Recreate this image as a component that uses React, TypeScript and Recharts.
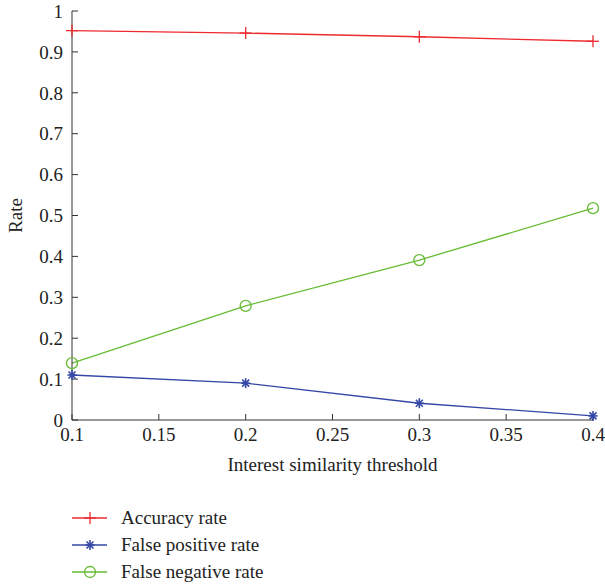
import { Line, LineChart, XAxis, YAxis } from "recharts";

const thresholds = [0.1, 0.2, 0.3, 0.4];
const accuracyRate = [0.952, 0.946, 0.937, 0.926];
const falsePositiveRate = [0.11, 0.09, 0.041, 0.01];
const falseNegativeRate = [0.139, 0.279, 0.391, 0.518];

const xTicks = [0.1, 0.15, 0.2, 0.25, 0.3, 0.35, 0.4];
const yTicks = [0, 0.1, 0.2, 0.3, 0.4, 0.5, 0.6, 0.7, 0.8, 0.9, 1];

const data = thresholds.map((t, i) => ({
  threshold: t,
  accuracy: accuracyRate[i],
  falsePositive: falsePositiveRate[i],
  falseNegative: falseNegativeRate[i],
}));

const FONT = "'Liberation Serif', serif";
const RED = "#ee2a2e";
const BLUE = "#3447a6";
const GREEN = "#66bb33";
const AXIS = "#333";

function PlusMark({ cx, cy, color }: { cx: number; cy: number; color: string }) {
  return (
    <g stroke={color} strokeWidth={1.3}>
      <line x1={cx - 6} y1={cy} x2={cx + 6} y2={cy} />
      <line x1={cx} y1={cy - 6} x2={cx} y2={cy + 6} />
    </g>
  );
}

function StarMark({ cx, cy, color }: { cx: number; cy: number; color: string }) {
  return (
    <g stroke={color} strokeWidth={1.6}>
      <line x1={cx - 4.5} y1={cy} x2={cx + 4.5} y2={cy} />
      <line x1={cx} y1={cy - 5} x2={cx} y2={cy + 5} />
      <line x1={cx - 3.5} y1={cy - 3.5} x2={cx + 3.5} y2={cy + 3.5} />
      <line x1={cx - 3.5} y1={cy + 3.5} x2={cx + 3.5} y2={cy - 3.5} />
    </g>
  );
}

function CircleMark({ cx, cy, color }: { cx: number; cy: number; color: string }) {
  return <circle cx={cx} cy={cy} r={5.5} fill="none" stroke={color} strokeWidth={1.3} />;
}

const legendItems = [
  { label: "Accuracy rate", color: RED, Mark: PlusMark },
  { label: "False positive rate", color: BLUE, Mark: StarMark },
  { label: "False negative rate", color: GREEN, Mark: CircleMark },
];

function ChartLegend() {
  return (
    <svg width={300} height={90} style={{ position: "absolute", left: 0, top: 505 }}>
      {legendItems.map((item, i) => {
        const y = 13 + i * 27;
        return (
          <g key={item.label}>
            <line x1={72} y1={y} x2={107} y2={y} stroke={item.color} strokeWidth={1.3} />
            <item.Mark cx={90} cy={y} color={item.color} />
            <text x={121} y={y + 6} fontFamily={FONT} fontSize={19} fill="#222">
              {item.label}
            </text>
          </g>
        );
      })}
    </svg>
  );
}

export default function App() {
  const tickStyle = { fontFamily: FONT, fontSize: 19, fill: "#222" };
  return (
    <div
      style={{
        position: "absolute",
        left: 0,
        top: 0,
        width: 605,
        height: 586,
        background: "#fff",
        fontFamily: FONT,
      }}
    >
      <LineChart width={605} height={586} data={data} margin={{ top: 11, right: 12, left: 0, bottom: 0 }}>
        <XAxis
          dataKey="threshold"
          type="number"
          domain={[0.1, 0.4]}
          ticks={xTicks}
          height={166}
          tickSize={-6}
          tickMargin={14}
          stroke={AXIS}
          tick={tickStyle}
          label={{
            value: "Interest similarity threshold",
            position: "insideTop",
            offset: 38,
            style: { fontFamily: FONT, fontSize: 19, fill: "#222" },
          }}
        />
        <XAxis
          xAxisId="top"
          orientation="top"
          dataKey="threshold"
          type="number"
          domain={[0.1, 0.4]}
          ticks={xTicks}
          height={0}
          tickSize={-6}
          stroke={AXIS}
          tickFormatter={() => ""}
        />
        <YAxis
          type="number"
          domain={[0, 1]}
          ticks={yTicks}
          width={72}
          tickSize={-6}
          tickMargin={15}
          stroke={AXIS}
          tick={tickStyle}
          label={{
            value: "Rate",
            angle: -90,
            position: "insideLeft",
            offset: 15,
            style: { fontFamily: FONT, fontSize: 19, fill: "#222", textAnchor: "middle" },
          }}
        />
        <YAxis
          yAxisId="right"
          orientation="right"
          type="number"
          domain={[0, 1]}
          ticks={yTicks}
          width={0}
          tickSize={-6}
          stroke={AXIS}
          tickFormatter={() => ""}
        />
        <Line
          dataKey="accuracy"
          stroke={RED}
          strokeWidth={1.3}
          isAnimationActive={false}
          dot={(p: any) => <PlusMark key={p.index} cx={p.cx} cy={p.cy} color={RED} />}
        />
        <Line
          dataKey="falsePositive"
          stroke={BLUE}
          strokeWidth={1.3}
          isAnimationActive={false}
          dot={(p: any) => <StarMark key={p.index} cx={p.cx} cy={p.cy} color={BLUE} />}
        />
        <Line
          dataKey="falseNegative"
          stroke={GREEN}
          strokeWidth={1.3}
          isAnimationActive={false}
          dot={(p: any) => <CircleMark key={p.index} cx={p.cx} cy={p.cy} color={GREEN} />}
        />
      </LineChart>
      <ChartLegend />
    </div>
  );
}
